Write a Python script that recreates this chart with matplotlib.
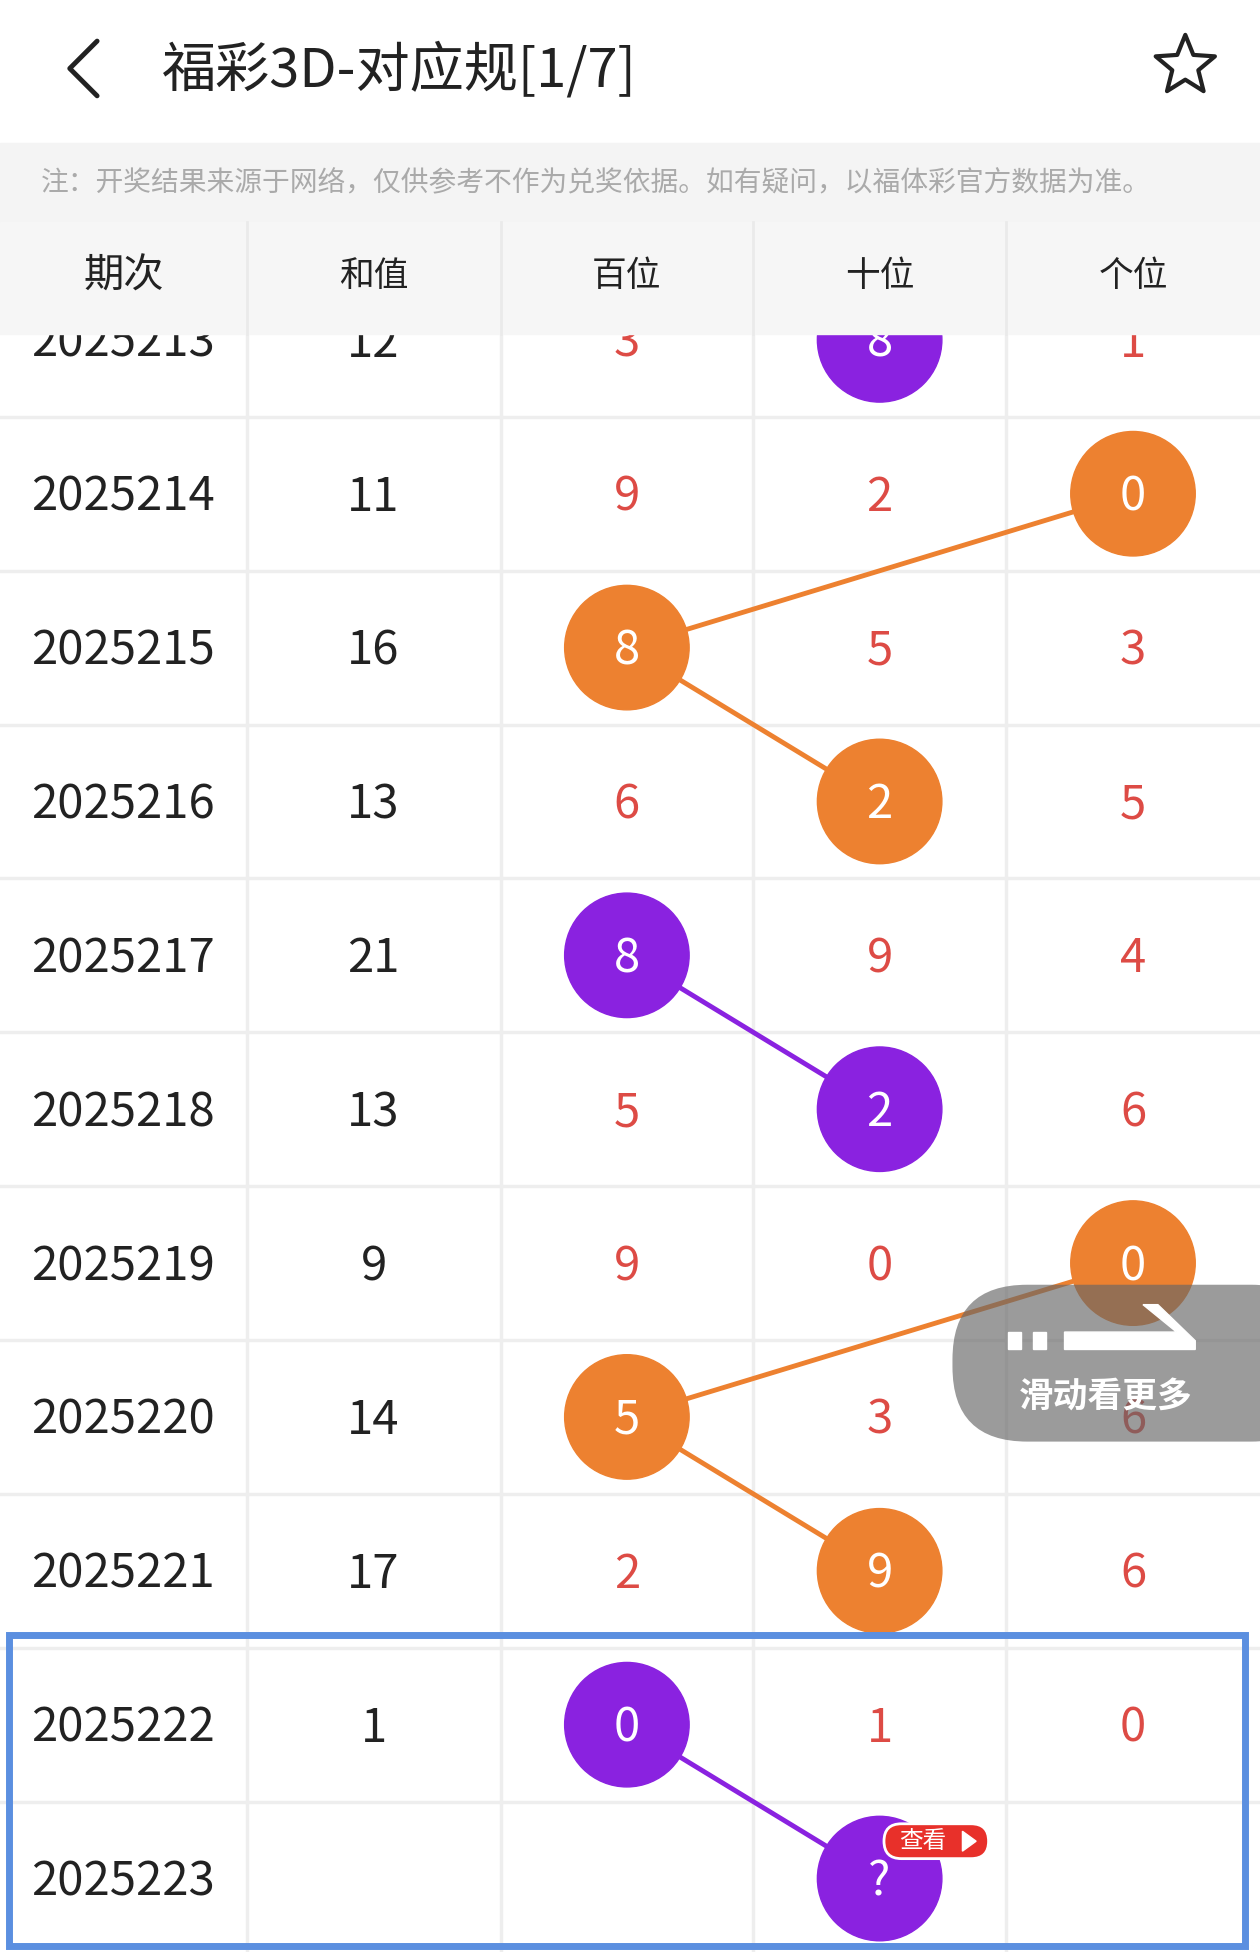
import matplotlib
matplotlib.use("Agg")
import matplotlib.pyplot as plt
from matplotlib.patches import Circle, Rectangle, FancyBboxPatch, Polygon
import numpy as np

plt.rcParams['font.family'] = ['Noto Sans CJK SC', 'DejaVu Sans']

periods = ["2025213","2025214","2025215","2025216","2025217","2025218","2025219","2025220","2025221","2025222","2025223"]
sums = ["12","11","16","13","21","13","9","14","17","1",""]
bai = ["3","9","8","6","8","5","9","5","2","0",""]
shi = ["8","2","5","2","9","2","0","3","9","1","?"]
ge = ["1","0","3","5","4","6","0","6","6","0",""]
hl = [(3,"p"),(4,"o"),(2,"o"),(3,"o"),(2,"p"),(3,"p"),(4,"o"),(2,"o"),(3,"o"),(2,"p"),(3,"p")]
links = [(1,2),(2,3),(4,5),(6,7),(7,8),(9,10)]
headers = ["期次","和值","百位","十位","个位"]
title = "福彩3D-对应规[1/7]"
note = "注：开奖结果来源于网络，仅供参考不作为兑奖依据。如有疑问，以福体彩官方数据为准。"

W, H = 1012, 1568
fig = plt.figure(figsize=(12.6, 19.52), dpi=100)
ax = fig.add_axes([0, 0, 1, 1])
ax.set_xlim(0, W); ax.set_ylim(H, 0); ax.axis('off')

ORANGE = "#ED8130"; PURPLE = "#8A22E0"; RED = "#DD4B45"; DARK = "#222222"
cols = {"o": ORANGE, "p": PURPLE}
xb = [0, 198, 402, 605, 808, 1012]
xc = [(xb[i]+xb[i+1])/2 for i in range(5)]
y0 = 273; dy = 123.6
yc = [y0 + i*dy for i in range(len(periods))]

for x in xb[1:-1]:
    ax.plot([x, x], [178, H], color="#eeeeee", lw=2.5, zorder=1)
for i in range(len(periods)):
    yb = yc[i] + dy/2
    ax.plot([0, W], [yb, yb], color="#eeeeee", lw=2.5, zorder=1)

for a, b in links:
    ax.plot([xc[hl[a][0]], xc[hl[b][0]]], [yc[a], yc[b]], color=cols[hl[b][1]], lw=3.5, zorder=2)

cells = [periods, sums, bai, shi, ge]
for i in range(len(periods)):
    for c in range(5):
        t = cells[c][i]
        ty = yc[i] + 3
        if c >= 2 and hl[i][0] == c:
            ax.add_patch(Circle((xc[c], yc[i]), 50, color=cols[hl[i][1]], zorder=3))
            ax.text(xc[c], ty, t, color="white", fontsize=34, ha='center', va='center', zorder=4)
        elif t:
            ax.text(xc[c], ty, t, color=DARK if c < 2 else RED, fontsize=34, ha='center', va='center', zorder=4)

ax.add_patch(FancyBboxPatch((710, 1465), 84, 28, boxstyle="round,pad=0,rounding_size=14", fc="#E8302A", ec="white", lw=2, zorder=5))
ax.text(741, 1479, "查看", color="white", fontsize=17, ha='center', va='center', zorder=6)
ax.add_patch(Polygon([[773, 1471], [773, 1487], [784, 1479]], color="white", zorder=6))

ax.add_patch(Rectangle((0, 0), W, 115, color="white", zorder=10))
ax.add_patch(Rectangle((0, 115), W, 63, color="#f4f4f4", zorder=10))
ax.add_patch(Rectangle((0, 178), W, 90, color="#f6f6f6", zorder=10))
for x in xb[1:-1]:
    ax.plot([x, x], [178, 268], color="#eaeaea", lw=2, zorder=11)
ax.plot([78, 56, 78], [33, 55, 77], color="#222222", lw=3.5, zorder=11, solid_capstyle='round')
ax.text(130, 56, title, fontsize=39, color="#222222", va='center', ha='left', zorder=11)
ang = np.pi/2 + np.arange(10)*np.pi/5
r = np.where(np.arange(10) % 2 == 0, 25, 11)
star = np.c_[952 + r*np.cos(ang), 53 - r*np.sin(ang)]
ax.add_patch(Polygon(star, closed=True, fill=False, ec="#222222", lw=3, joinstyle='round', zorder=11))
ax.text(33, 147, note, fontsize=20, color="#aaaaaa", va='center', ha='left', zorder=11)
for c in range(5):
    ax.text(xc[c], 222, headers[c], fontsize=29 if c == 0 else 25, color="#222222", ha='center', va='center', zorder=11)

ax.add_patch(Rectangle((7, 1313), 993, 250, fill=False, ec="#5B8FE0", lw=5, zorder=12))

ax.add_patch(FancyBboxPatch((765, 1032), 300, 126, boxstyle="round,pad=0,rounding_size=60", fc="#666666", alpha=0.65, ec="none", zorder=13))
ax.add_patch(Rectangle((810, 1070), 10, 14, color="white", zorder=14))
ax.add_patch(Rectangle((830, 1070), 10, 14, color="white", zorder=14))
ax.add_patch(Polygon([[855, 1070], [945, 1070], [918, 1048], [930, 1048], [960, 1077], [960, 1084], [855, 1084]], color="white", zorder=14))
ax.text(888, 1122, "滑动看更多", fontsize=25, color="white", fontweight='bold', ha='center', va='center', zorder=14)

fig.savefig("out.png", dpi=100)
